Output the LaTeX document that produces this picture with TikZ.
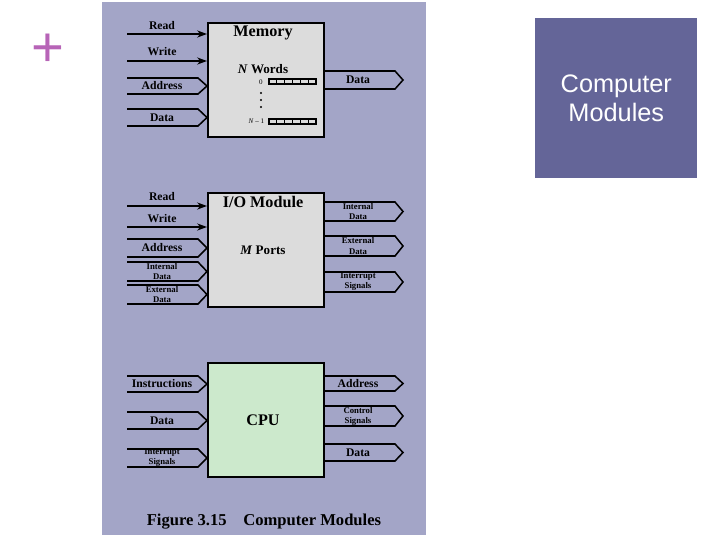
\documentclass[tikz,border=0pt]{standalone}
\usepackage{fontspec}
\setmainfont{Liberation Serif}
\newfontfamily\headfont{Liberation Sans}
\usepackage{xcolor}
\usepackage{tikz}
\usetikzlibrary{arrows.meta}

\definecolor{panelbg}{RGB}{163,165,199}
\definecolor{boxgray}{RGB}{220,220,220}
\definecolor{cpugreen}{RGB}{204,233,204}
\definecolor{headbg}{RGB}{100,101,152}
\definecolor{plusviolet}{RGB}{183,100,183}

\tikzset{
  modbox/.style={draw, line width=1.4pt, minimum width=2.9cm, minimum height=2.85cm, anchor=north west, inner sep=0pt},
  modname/.style={font=\bfseries\fontsize{11.5}{13}\selectfont},
  modsub/.style={font=\bfseries\fontsize{9.3}{11}\selectfont},
  lbl/.style={font=\bfseries\fontsize{8.3}{9}\selectfont, inner sep=0pt},
  lblsmall/.style={font=\bfseries\fontsize{6.2}{7.2}\selectfont, align=center, inner sep=0pt},
  tiny/.style={font=\fontsize{5}{6}\selectfont, inner sep=0pt},
  bus/.style={line width=1.1pt},
  sig/.style={line width=1.3pt, -{Stealth[length=7pt, width=5pt]}},
}

% bus entering a module from the left: top y, bottom y, label style, label
\newcommand{\busin}[5]{%
  \draw[bus] (127,#1) -- (198,#1) -- (207,{(#1+#2)/2}) -- (198,#2) -- (127,#2);
  \node[#3] (#5) at (162,{(#1+#2)/2}) {#4};}
% bus leaving a module on the right
\newcommand{\busout}[5]{%
  \draw[bus] (323,#1) -- (395,#1) -- (403,{(#1+#2)/2}) -- (395,#2) -- (323,#2);
  \node[#3] (#5) at (358,{(#1+#2)/2}) {#4};}

\begin{document}
\begin{tikzpicture}[x=0.025cm, y=-0.025cm]
    \useasboundingbox (0,0) rectangle (720,540);

    % slide decorations
    \node[text=plusviolet, font=\headfont\fontsize{40}{40}\selectfont, inner sep=0pt] (plus) at (48,50) {+};
    \node[fill=headbg, minimum width=4.05cm, minimum height=4cm, anchor=north west, text=white,
          align=center, font=\headfont\fontsize{18}{21.3}\selectfont] (head) at (535,18) {Computer\\Modules};

    % figure panel
    \fill[panelbg] (102,2) rectangle (426,535);

    % the three modules
    \node[modbox, fill=boxgray] (mem) at (207,22) {};
    \node[modbox, fill=boxgray] (io) at (207,192) {};
    \node[modbox, fill=cpugreen] (cpu) at (207,362) {};

    \node[modname] (memname) at (263,33) {Memory};
    \node[modname] (ioname) at (263,202) {I/O Module};
    \node[modname] (cpuname) at (263,420) {CPU};
    \node[modsub] (words) at (263,69) {\textit{N} Words};
    \node[modsub] (ports) at (263,250) {\textit{M} Ports};

    % memory words
    \node[tiny] (w0) at (261,82) {0};
    \node[tiny, anchor=east] (wn) at (264.5,121.5) {\textit{N} -- 1};
    \foreach \y in {79,119} {
        \draw[line width=0.8pt] (269,\y) rectangle (316,\y+5);
        \foreach \k in {1,...,5} \draw[line width=0.6pt] ({269+\k*7.83},\y) -- ++(0,5);
    }
    \foreach \y in {93,100,107} \fill (261,\y) circle (1.1);

    % read / write lines
    \foreach \y/\ly/\txt [count=\i] in {34/26/Read, 61/52/Write} {
        \coordinate (mrw\i) at (127,\y);
        \draw[sig] (mrw\i) -- (mrw\i -| mem.west);
        \node[lbl] (mrwl\i) at (162,\ly) {\txt};
    }
    \foreach \y/\ly/\txt [count=\i] in {206/197/Read, 227/219/Write} {
        \coordinate (irw\i) at (127,\y);
        \draw[sig] (irw\i) -- (irw\i -| io.west);
        \node[lbl] (irwl\i) at (162,\ly) {\txt};
    }

    % memory buses
    \busin{78}{94}{lbl}{Address}{memaddr}
    \busin{109}{126}{lbl}{Data}{memdin}
    \busout{71}{89}{lbl}{Data}{memdout}

    % I/O module buses
    \busin{239}{257}{lbl}{Address}{ioaddr}
    \busin{262}{281}{lblsmall}{Internal\\Data}{ioidin}
    \busin{285}{304}{lblsmall}{External\\Data}{ioedin}
    \busout{202}{221}{lblsmall}{Internal\\Data}{ioidout}
    \busout{236}{256}{lblsmall}{External\\Data}{ioedout}
    \busout{272}{292}{lblsmall}{Interrupt\\Signals}{ioint}

    % CPU buses
    \busin{376}{392}{lbl}{Instructions}{cpuinstr}
    \busin{412}{429}{lbl}{Data}{cpudin}
    \busin{449}{467}{lblsmall}{Interrupt\\Signals}{cpuint}
    \busout{376}{391}{lbl}{Address}{cpuaddr}
    \busout{406}{426}{lblsmall}{Control\\Signals}{cpuctrl}
    \busout{444}{461}{lbl}{Data}{cpudout}

    \node[font=\bfseries\fontsize{11.8}{13}\selectfont] (caption) at (264,522) {Figure 3.15\hspace{0.75em} Computer Modules};
\end{tikzpicture}
\end{document}
